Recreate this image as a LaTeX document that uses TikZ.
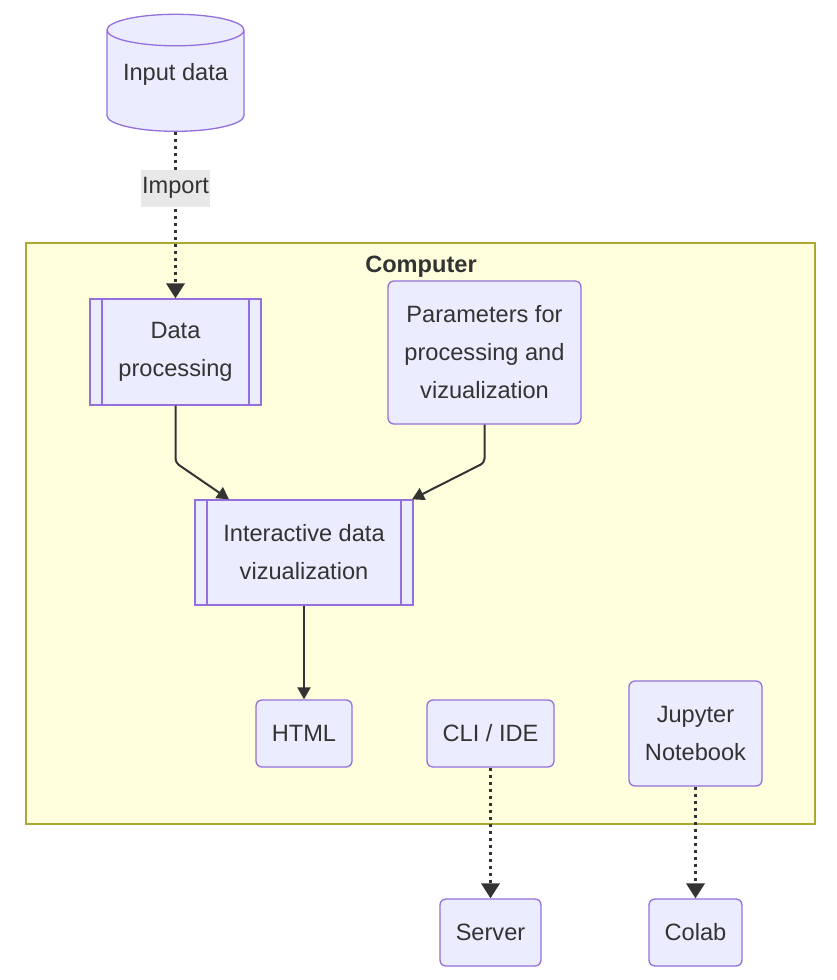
\documentclass[tikz,border=0pt]{standalone}
\usepackage{fontspec}
\setmainfont{Liberation Sans}
\usetikzlibrary{arrows.meta,shapes.geometric}
\definecolor{boxFill}{HTML}{ECECFF}
\definecolor{boxLine}{HTML}{9370DB}
\definecolor{inkCol}{HTML}{333333}
\definecolor{groupFill}{HTML}{FFFFDE}
\definecolor{groupLine}{HTML}{AAAA33}
\definecolor{tagFill}{HTML}{E8E8E8}
\newcommand{\boxFont}{\fontsize{23.6}{38}\selectfont}

\tikzset{
  box/.style={draw=boxLine, fill=boxFill, line width=1.3pt, rounded corners=6pt,
    inner sep=0pt, align=center, text=inkCol, font=\boxFont},
  subproc/.style={box, rounded corners=0pt,
    path picture={\draw[boxLine, line width=1.3pt]
      ([xshift=12pt]path picture bounding box.north west) -- ([xshift=12pt]path picture bounding box.south west)
      ([xshift=-12pt]path picture bounding box.north east) -- ([xshift=-12pt]path picture bounding box.south east);}},
  store/.style={box, rounded corners=0pt, cylinder, shape border rotate=90, aspect=0.3,
    cylinder uses custom fill, cylinder body fill=boxFill, cylinder end fill=boxFill,
    text height=17pt, text depth=19pt},
  group/.style={draw=groupLine, fill=groupFill, line width=1.3pt, inner sep=0pt},
  tag/.style={fill=tagFill, inner sep=0pt, text=inkCol, font=\boxFont, minimum width=69pt, minimum height=37pt},
  flow/.style={draw=inkCol, line width=2pt, rounded corners=4pt, -{Triangle[length=12pt,width=13pt]}},
  dflow/.style={draw=inkCol, line width=3.5pt, dash pattern=on 3.5pt off 3.5pt, -{Triangle[length=15pt,width=18pt]}}
}

\begin{document}
\begin{tikzpicture}[x=1pt,y=-1pt]
\useasboundingbox (0,0) rectangle (836,980);
% subgraph
\node[group, minimum width=789pt, minimum height=581pt] (comp) at (420.5,533.5) {};
\node[text=inkCol, font=\boxFont\bfseries, inner sep=0pt] (compTitle) at (421,267) {Computer};
% nodes
\node[store, minimum width=137pt, minimum height=117pt] (input) at (175.5,81) {Input data};
\node[subproc, minimum width=171pt, minimum height=106pt] (dproc) at (175.5,352) {Data\\processing};
\node[box, minimum width=193pt, minimum height=143pt] (params) at (484.5,352.5) {Parameters for\\processing and\\vizualization};
\node[subproc, minimum width=218pt, minimum height=105pt] (viz) at (304,552.5) {Interactive data\\vizualization};
\node[box, minimum width=96pt, minimum height=67pt] (html) at (304,733.5) {HTML};
\node[box, minimum width=127pt, minimum height=67pt] (cli) at (490.5,733.5) {CLI / IDE};
\node[box, minimum width=133pt, minimum height=105pt] (jup) at (695.5,733.5) {Jupyter\\Notebook};
\node[box, minimum width=101pt, minimum height=67pt] (server) at (490.5,932.5) {Server};
\node[box, minimum width=93pt, minimum height=67pt] (colab) at (695.5,932.5) {Colab};
% edges
\draw[dflow] (input.south) -- node[tag, pos=0.337] (imp) {Import} (dproc.north);
\draw[flow] (dproc.south) -- ++(0,57) -- ([xshift=-75pt]viz.north);
\draw[flow] (params.south) -- ++(0,38) -- ([xshift=108pt]viz.north);
\draw[flow] (viz.south) -- (html.north);
\draw[dflow] (cli.south) -- (server.north);
\draw[dflow] (jup.south) -- (colab.north);
\end{tikzpicture}
\end{document}
